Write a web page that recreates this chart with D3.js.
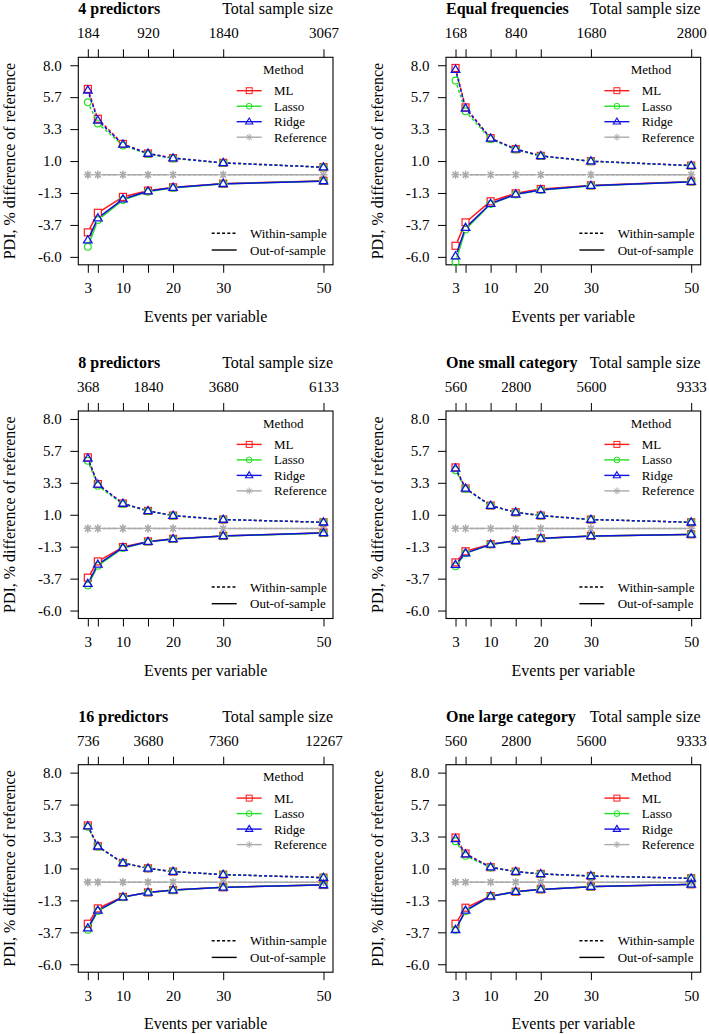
<!DOCTYPE html>
<html><head><meta charset="utf-8">
<script src="https://cdn.jsdelivr.net/npm/d3@7"></script>
<style>
body{margin:0;background:#fff;}
svg text{font-family:"Liberation Serif","Times New Roman",serif;fill:#000;}
</style></head><body>
<svg id="chart" width="709" height="1034"></svg>
<script>
// ---------------- data ----------------
const epv = [3, 5, 10, 15, 20, 30, 50];
const epvLabels = [3, 10, 20, 30, 50];
const sampleTickEpv = [3, 15, 30, 50];
const panelTitles = ["4 predictors", "Equal frequencies", "8 predictors", "One small category", "16 predictors", "One large category"];
const sampleSizeLabels = [
  [184, 920, 1840, 3067],
  [168, 840, 1680, 2800],
  [368, 1840, 3680, 6133],
  [560, 2800, 5600, 9333],
  [736, 3680, 7360, 12267],
  [560, 2800, 5600, 9333]
];
const yTickValues = [-6, -3.667, -1.333, 1, 3.333, 5.667, 8];
const methods = ["ML", "Lasso", "Ridge", "Reference"];
const sampleTypes = ["Within-sample", "Out-of-sample"];
const referenceValues = [0, 0, 0, 0, 0, 0, 0];

const withinML = [
  [6.27, 4.09, 2.25, 1.55, 1.21, 0.87, 0.55],
  [7.80, 4.92, 2.67, 1.87, 1.38, 0.99, 0.67],
  [5.19, 3.24, 1.82, 1.28, 0.94, 0.65, 0.45],
  [4.46, 2.92, 1.67, 1.18, 0.94, 0.65, 0.45],
  [4.14, 2.62, 1.40, 1.01, 0.77, 0.55, 0.33],
  [3.26, 2.09, 1.09, 0.77, 0.60, 0.45, 0.28]
];
const withinLasso = [
  [5.29, 3.75, 2.14, 1.52, 1.19, 0.86, 0.55],
  [6.88, 4.63, 2.60, 1.84, 1.36, 0.98, 0.66],
  [4.95, 3.11, 1.79, 1.27, 0.93, 0.65, 0.45],
  [4.26, 2.88, 1.66, 1.17, 0.93, 0.65, 0.45],
  [4.04, 2.58, 1.39, 1.00, 0.77, 0.55, 0.33],
  [2.99, 1.92, 1.07, 0.76, 0.60, 0.45, 0.28]
];
const withinRidge = [
  [6.17, 3.97, 2.22, 1.55, 1.21, 0.87, 0.55],
  [7.68, 4.85, 2.66, 1.87, 1.38, 0.99, 0.67],
  [5.12, 3.22, 1.82, 1.28, 0.94, 0.65, 0.45],
  [4.38, 2.92, 1.67, 1.18, 0.94, 0.65, 0.45],
  [4.09, 2.62, 1.40, 1.01, 0.77, 0.55, 0.33],
  [3.16, 2.04, 1.09, 0.77, 0.60, 0.45, 0.28]
];
const outML = [
  [-4.21, -2.78, -1.62, -1.16, -0.92, -0.65, -0.45],
  [-5.19, -3.48, -1.94, -1.36, -1.04, -0.78, -0.50],
  [-3.60, -2.41, -1.36, -0.95, -0.76, -0.55, -0.33],
  [-2.48, -1.67, -1.15, -0.89, -0.72, -0.55, -0.43],
  [-3.04, -1.92, -1.08, -0.75, -0.58, -0.38, -0.21],
  [-3.04, -1.87, -1.02, -0.70, -0.53, -0.33, -0.16]
];
const outLasso = [
  [-5.27, -3.31, -1.85, -1.24, -0.96, -0.66, -0.46],
  [-6.37, -4.00, -2.14, -1.45, -1.12, -0.81, -0.52],
  [-4.17, -2.73, -1.43, -0.98, -0.78, -0.56, -0.34],
  [-2.77, -1.82, -1.18, -0.91, -0.74, -0.55, -0.43],
  [-3.48, -2.10, -1.10, -0.76, -0.59, -0.38, -0.21],
  [-3.48, -2.12, -1.04, -0.71, -0.54, -0.33, -0.16]
];
const outRidge = [
  [-4.78, -3.17, -1.78, -1.20, -0.94, -0.66, -0.46],
  [-5.95, -3.87, -2.11, -1.43, -1.11, -0.80, -0.51],
  [-4.04, -2.63, -1.41, -0.97, -0.77, -0.55, -0.33],
  [-2.65, -1.80, -1.17, -0.90, -0.73, -0.55, -0.43],
  [-3.36, -2.07, -1.09, -0.75, -0.58, -0.38, -0.21],
  [-3.48, -2.07, -1.03, -0.70, -0.53, -0.33, -0.16]
];

// ---------------- style / layout ----------------
const colors = {ML: "#ff1a1a", Lasso: "#22e022", Ridge: "#1010e0", Reference: "#aaaaaa"};
const shapes = {ML: "square", Lasso: "circle", Ridge: "triangle", Reference: "asterisk"};
const colLeft = [78.3, 446];
const rowTop = [57.3, 411, 764.7];
const W = 254.7, H = 207.5;
const dotted = "3,2.2";
const GAP = 4.5;
const FONT = "'Liberation Serif', 'Times New Roman', serif";

const svg = d3.select("#chart");

function marker(g, shape, cx, cy, color, s, sw) {
  sw = sw || 1.2;
  if (shape === "square") {
    g.append("rect").attr("x", cx - 3.5*s).attr("y", cy - 3.5*s).attr("width", 7*s).attr("height", 7*s)
      .attr("fill", "none").attr("stroke", color).attr("stroke-width", sw);
  } else if (shape === "circle") {
    g.append("circle").attr("cx", cx).attr("cy", cy).attr("r", 3.4*s)
      .attr("fill", "none").attr("stroke", color).attr("stroke-width", sw);
  } else if (shape === "triangle") {
    const a = 4.4*s;
    g.append("path").attr("d", `M${cx},${cy - a}L${cx + a*0.97},${cy + a*0.62}L${cx - a*0.97},${cy + a*0.62}Z`)
      .attr("fill", "none").attr("stroke", color).attr("stroke-width", sw + 0.1);
  } else {
    const r = 4*s, d = r*0.72;
    const p = `M${cx - r},${cy}L${cx + r},${cy}M${cx},${cy - r}L${cx},${cy + r}` +
              `M${cx - d},${cy - d}L${cx + d},${cy + d}M${cx - d},${cy + d}L${cx + d},${cy - d}`;
    g.append("path").attr("d", p).attr("stroke", color).attr("stroke-width", sw).attr("fill", "none");
  }
}

function gappedLine(g, x, y, vals, color, dash) {
  const line = d3.line();
  for (let i = 0; i < epv.length - 1; i++) {
    const x0 = x(epv[i]), y0 = y(vals[i]), x1 = x(epv[i + 1]), y1 = y(vals[i + 1]);
    const dx = x1 - x0, dy = y1 - y0, len = Math.hypot(dx, dy);
    if (len <= 2*GAP) continue;
    const ux = dx/len, uy = dy/len;
    g.append("path")
      .attr("d", line([[x0 + ux*GAP, y0 + uy*GAP], [x1 - ux*GAP, y1 - uy*GAP]]))
      .attr("fill", "none").attr("stroke", color).attr("stroke-width", 1.5)
      .attr("stroke-dasharray", dash || null);
  }
}

panelTitles.forEach((title, p) => {
  const L = colLeft[p % 2], T = rowTop[Math.floor(p/2)], R = L + W, B = T + H;
  const x = d3.scaleLinear().domain([1.1, 51.9]).range([L, R]);
  const y = d3.scaleLinear().domain([-6.58, 8.58]).range([B, T]);
  const g = svg.append("g").attr("font-family", FONT);

  // axes
  const ax = (sel) => {
    sel.attr("font-family", FONT).attr("font-size", 15);
    sel.select(".domain").remove();
    sel.selectAll("line").attr("stroke", "#000");
    sel.selectAll("text").attr("font-size", 15).attr("font-family", FONT);
  };
  g.append("g").attr("transform", `translate(${L},0)`)
    .call(d3.axisLeft(y).tickValues(yTickValues).tickFormat(d => d.toFixed(1)).tickSize(8).tickPadding(8.5).tickSizeOuter(0)).call(ax);
  g.append("g").attr("transform", `translate(0,${B})`)
    .call(d3.axisBottom(x).tickValues(epv).tickFormat(d => epvLabels.includes(d) ? d : "").tickSize(8).tickPadding(10).tickSizeOuter(0)).call(ax);
  g.append("g").attr("transform", `translate(0,${T})`)
    .call(d3.axisTop(x).tickValues(epv).tickFormat(d => { const k = sampleTickEpv.indexOf(d); return k >= 0 ? sampleSizeLabels[p][k] : ""; }).tickSize(8).tickPadding(11).tickSizeOuter(0)).call(ax);

  // box
  g.append("rect").attr("x", L).attr("y", T).attr("width", W).attr("height", H)
    .attr("fill", "none").attr("stroke", "#000").attr("stroke-width", 1.1);

  // titles
  g.append("text").attr("x", L).attr("y", T - 43).attr("font-size", 16).attr("font-weight", "bold").text(title);
  g.append("text").attr("x", R).attr("y", T - 43).attr("font-size", 16).attr("text-anchor", "end").text("Total sample size");
  g.append("text").attr("x", (L + R)/2).attr("y", B + 57).attr("font-size", 16).attr("text-anchor", "middle").text("Events per variable");
  g.append("text").attr("transform", `translate(${L - 63},${(T + B)/2}) rotate(-90)`).attr("font-size", 16)
    .attr("text-anchor", "middle").text("PDI, % difference of reference");

  // series
  const series = [
    ["Reference", referenceValues, referenceValues],
    ["ML", withinML[p], outML[p]],
    ["Lasso", withinLasso[p], outLasso[p]],
    ["Ridge", withinRidge[p], outRidge[p]]
  ];
  series.forEach(([m, w, o]) => {
    const c = colors[m];
    gappedLine(g, x, y, w, c, dotted);
    gappedLine(g, x, y, o, c, null);
    epv.forEach((e, i) => { marker(g, shapes[m], x(e), y(w[i]), c, 1); marker(g, shapes[m], x(e), y(o[i]), c, 1); });
  });

  // legend: methods
  g.append("text").attr("x", R - 49.7).attr("y", T + 16.5).attr("font-size", 13).attr("text-anchor", "middle").text("Method");
  methods.forEach((m, i) => {
    const cy = T + 33.4 + i*15.5;
    g.append("line").attr("x1", R - 96.3).attr("x2", R - 71.3).attr("y1", cy).attr("y2", cy)
      .attr("stroke", colors[m]).attr("stroke-width", 1.4);
    marker(g, shapes[m], R - 83.8, cy, colors[m], 0.85, 1.0);
    g.append("text").attr("x", R - 59).attr("y", cy + 4.5).attr("font-size", 13).text(m);
  });
  // legend: sample type
  sampleTypes.forEach((s, i) => {
    const cy = B - 31.5 + i*16.7;
    g.append("line").attr("x1", R - 121.3).attr("x2", R - 96.3).attr("y1", cy).attr("y2", cy)
      .attr("stroke", "#000").attr("stroke-width", 1.4).attr("stroke-dasharray", i === 0 ? dotted : null);
    g.append("text").attr("x", R - 83).attr("y", cy + 4.5).attr("font-size", 13).text(s);
  });
});
</script>
</body></html>
